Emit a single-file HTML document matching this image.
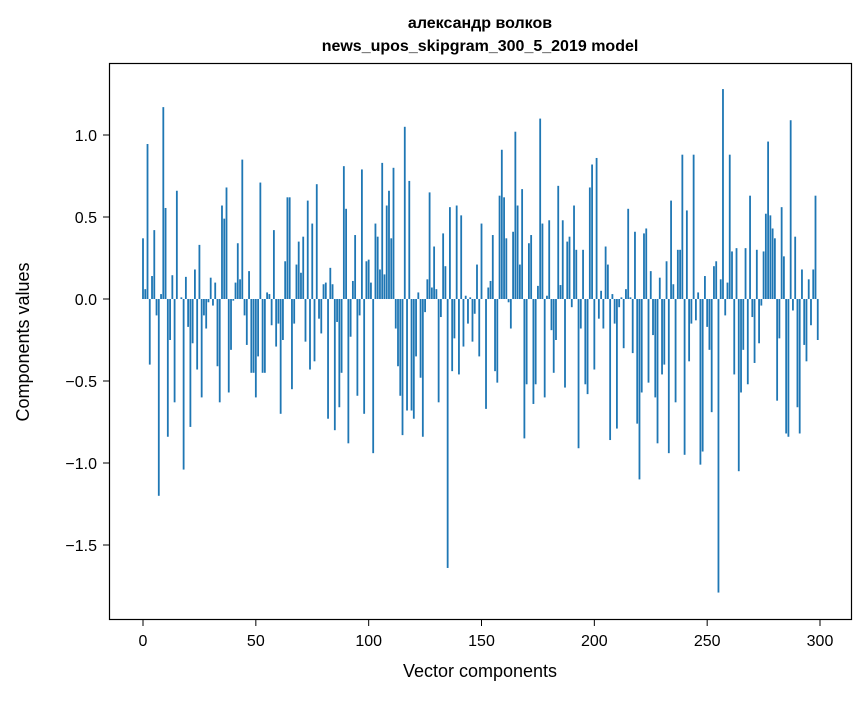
<!DOCTYPE html>
<html><head><meta charset="utf-8"><style>
body{margin:0;background:#fff;}
svg text{font-family:"Liberation Sans","DejaVu Sans",sans-serif;fill:#000;}
</style></head><body>
<svg id="chart" width="867" height="696" xmlns="http://www.w3.org/2000/svg">
<rect width="867" height="696" fill="#fff"/>
<text x="480" y="28" text-anchor="middle" font-size="16" font-weight="bold">александр волков</text>
<text x="480" y="51" text-anchor="middle" font-size="16" font-weight="bold">news_upos_skipgram_300_5_2019 model</text>
<g id="bars"></g>
<g id="axes"></g>
<rect x="109.5" y="63.5" width="742" height="556" fill="none" stroke="#000" stroke-width="1.2"/>
<text x="480" y="677" text-anchor="middle" font-size="18">Vector components</text>
<text transform="translate(29,342) rotate(-90)" text-anchor="middle" font-size="18">Components values</text>
</svg>
<script>
const values = [0.37,0.06,0.945,-0.40,0.14,0.42,-0.10,-1.20,0.03,1.17,
0.555,-0.84,-0.25,0.145,-0.63,0.66,0.0,0.01,-1.04,0.135,
-0.17,-0.78,-0.27,0.18,-0.43,0.33,-0.60,-0.10,-0.18,-0.02,
0.13,-0.04,0.10,-0.41,-0.63,0.57,0.49,0.68,-0.57,-0.31,
-0.01,0.10,0.34,0.12,0.85,-0.10,-0.28,0.17,-0.45,-0.45,
-0.60,-0.35,0.71,-0.45,-0.45,0.04,0.03,-0.16,0.42,-0.29,
-0.15,-0.70,-0.25,0.23,0.62,0.62,-0.55,-0.15,0.21,0.35,
0.16,0.38,-0.26,0.60,-0.43,0.46,-0.38,0.70,-0.12,-0.21,
0.09,0.10,-0.73,0.19,0.09,-0.80,-0.14,-0.66,-0.45,0.81,
0.55,-0.88,-0.23,0.11,0.39,-0.59,-0.10,0.79,-0.70,0.23,
0.24,0.10,-0.94,0.46,0.38,0.18,0.83,0.15,0.57,0.66,
0.37,0.80,-0.18,-0.41,-0.59,-0.83,1.05,-0.68,0.72,-0.68,
-0.73,-0.35,0.04,-0.48,-0.84,-0.08,0.12,0.65,0.07,0.32,
0.06,-0.63,-0.11,0.40,0.20,-1.64,0.56,-0.44,-0.24,0.57,
-0.46,0.51,-0.29,0.02,-0.15,0.01,-0.26,-0.09,0.21,-0.35,
0.46,0.0,-0.67,0.07,0.11,0.39,-0.44,-0.51,0.63,0.91,
0.62,0.37,-0.02,-0.18,0.41,1.02,0.57,0.21,0.67,-0.85,
-0.52,0.34,0.39,-0.64,-0.52,0.08,1.10,0.46,-0.60,0.02,
0.48,-0.19,-0.45,-0.25,0.69,0.085,0.48,-0.54,0.35,0.38,
-0.05,0.57,0.30,-0.91,-0.18,0.30,-0.52,-0.58,0.68,0.82,
-0.43,0.86,-0.12,0.05,-0.18,0.32,0.21,-0.86,0.03,-0.15,
-0.79,-0.05,0.01,-0.30,0.06,0.55,0.01,-0.33,0.41,-0.76,
-1.10,-0.57,0.40,0.43,-0.51,0.17,-0.22,-0.60,-0.88,0.13,
-0.46,-0.40,0.23,-0.94,0.60,0.09,-0.63,0.30,0.30,0.88,
-0.95,0.54,-0.38,-0.15,0.88,-0.13,0.04,-1.01,-0.93,0.14,
-0.17,-0.31,-0.69,0.20,0.23,-1.79,0.12,1.28,-0.10,0.10,
0.88,0.29,-0.46,0.31,-1.05,-0.57,-0.31,0.31,-0.52,0.63,
-0.11,-0.39,0.30,-0.27,-0.04,0.29,0.52,0.96,0.51,0.43,
0.37,-0.62,-0.24,0.56,0.26,-0.82,-0.84,1.09,-0.07,0.38,
-0.66,-0.82,0.18,-0.28,-0.38,0.12,-0.16,0.18,0.63,-0.25];
const xTicks = [0,50,100,150,200,250,300];
const yTicks = [-1.5,-1.0,-0.5,0.0,0.5,1.0];
const yTickLabels = ["\u22121.5","\u22121.0","\u22120.5","0.0","0.5","1.0"];

const NS="http://www.w3.org/2000/svg";
function xs(v){return 143+(v)*2.2567;}
function ys(v){return 299-v*164;}
const bars=document.getElementById('bars');
values.forEach((v,i)=>{
  const r=document.createElementNS(NS,'rect');
  
  
  const x0=xs(i-0.4), x1=xs(i+0.4);
  r.setAttribute('x',x0);r.setAttribute('width',x1-x0);
  r.setAttribute('y',Math.min(ys(v),ys(0)));
  r.setAttribute('height',Math.abs(ys(v)-ys(0)));
  r.setAttribute('fill','#1f77b4');
  bars.appendChild(r);
});
const axes=document.getElementById('axes');
xTicks.forEach(t=>{
  const l=document.createElementNS(NS,'line');
  
  
  l.setAttribute('x1',xs(t));l.setAttribute('x2',xs(t));
  l.setAttribute('y1',620);l.setAttribute('y2',626);
  l.setAttribute('stroke','#000');
  axes.appendChild(l);
  const tx=document.createElementNS(NS,'text');
  
  
  tx.setAttribute('x',xs(t));tx.setAttribute('y',646);
  tx.setAttribute('text-anchor','middle');tx.setAttribute('font-size','16');
  tx.textContent=String(t);
  axes.appendChild(tx);
});
yTicks.forEach((t,k)=>{
  const l=document.createElementNS(NS,'line');
  
  
  l.setAttribute('x1',103);l.setAttribute('x2',109);
  l.setAttribute('y1',ys(t));l.setAttribute('y2',ys(t));
  l.setAttribute('stroke','#000');
  axes.appendChild(l);
  const tx=document.createElementNS(NS,'text');
  
  
  tx.setAttribute('x',97);tx.setAttribute('y',ys(t)+6);
  tx.setAttribute('text-anchor','end');tx.setAttribute('font-size','16');
  tx.textContent=yTickLabels[k];
  axes.appendChild(tx);
});
</script>
</body></html>
